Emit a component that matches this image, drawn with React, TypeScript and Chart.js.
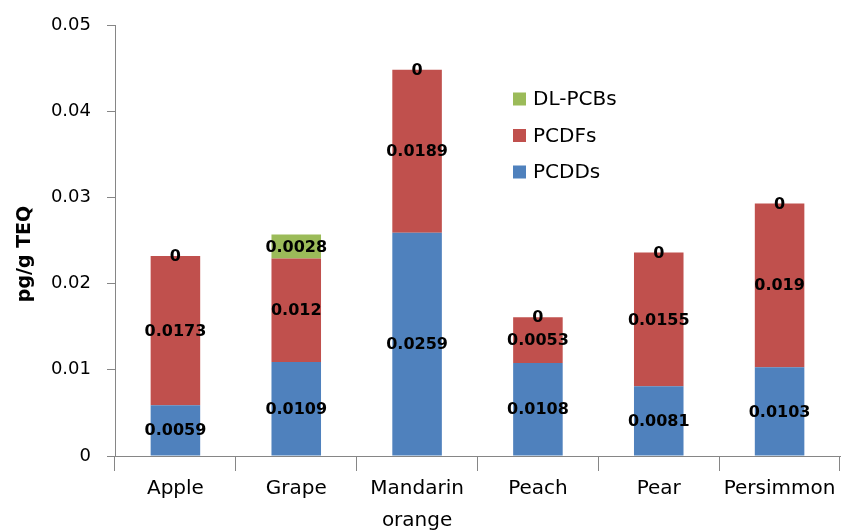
import React, { useEffect, useRef } from "react";
import { Chart, registerables } from "chart.js";

Chart.register(...registerables);

const categories: (string | string[])[] = ["Apple", "Grape", ["Mandarin", "orange"], "Peach", "Pear", "Persimmon"];
const pcdds = [0.0059, 0.0109, 0.0259, 0.0108, 0.0081, 0.0103];
const pcdfs = [0.0173, 0.012, 0.0189, 0.0053, 0.0155, 0.019];
const dlpcbs = [0, 0.0028, 0, 0, 0, 0];
const seriesNames = ["PCDDs", "PCDFs", "DL-PCBs"];
const seriesColors = ["#4F81BD", "#C0504D", "#9BBB59"];
const yAxisTitle = "pg/g TEQ";
const yMax = 0.05;
const yStep = 0.01;

const FONT = "'DejaVu Sans', sans-serif";

const labelPlugin = {
  id: "customLabels",
  afterDatasetsDraw(chart: any) {
    const ctx = chart.ctx;
    ctx.save();
    ctx.font = `bold 16px ${FONT}`;
    ctx.fillStyle = "#000";
    ctx.textAlign = "center";
    ctx.textBaseline = "middle";
    chart.data.datasets.forEach((ds: any, di: number) => {
      const meta = chart.getDatasetMeta(di);
      meta.data.forEach((el: any, i: number) => {
        const v = ds.data[i];
        const cy = (el.y + el.base) / 2;
        ctx.fillText(String(v), el.x, cy + 1);
      });
    });
    ctx.restore();
  },
  afterDraw(chart: any) {
    const ctx = chart.ctx;
    ctx.save();
    // y-axis title
    ctx.font = `bold 19px ${FONT}`;
    ctx.fillStyle = "#000";
    ctx.textAlign = "center";
    ctx.textBaseline = "middle";
    ctx.translate(25, 254);
    ctx.rotate(-Math.PI / 2);
    ctx.fillText(yAxisTitle, 0, 0);
    ctx.restore();

    // legend (reverse order)
    ctx.save();
    ctx.font = `20px ${FONT}`;
    ctx.textAlign = "left";
    ctx.textBaseline = "middle";
    const x0 = 513;
    const y0 = 99;
    const gap = 36.5;
    for (let k = 0; k < seriesNames.length; k++) {
      const idx = seriesNames.length - 1 - k;
      const cy = y0 + k * gap;
      ctx.fillStyle = seriesColors[idx];
      ctx.fillRect(x0, cy - 6.5, 13, 13);
      ctx.fillStyle = "#000";
      ctx.fillText(seriesNames[idx], x0 + 20, cy + 1);
    }
    ctx.restore();
  },
};

export default function App() {
  const ref = useRef<HTMLCanvasElement | null>(null);
  useEffect(() => {
    if (!ref.current) return;
    const chart = new Chart(ref.current, {
      type: "bar",
      data: {
        labels: categories as any,
        datasets: [
          { label: seriesNames[0], data: pcdds, backgroundColor: seriesColors[0] },
          { label: seriesNames[1], data: pcdfs, backgroundColor: seriesColors[1] },
          { label: seriesNames[2], data: dlpcbs, backgroundColor: seriesColors[2] },
        ],
      },
      options: {
        responsive: false,
        animation: false,
        layout: { padding: { top: 15, right: 2, left: 0, bottom: 0 } },
        plugins: {
          legend: { display: false },
          tooltip: { enabled: false },
        },
        datasets: { bar: { categoryPercentage: 1, barPercentage: 0.41 } } as any,
        scales: {
          x: {
            stacked: true,
            grid: { offset: true, drawOnChartArea: false, drawTicks: true, tickLength: 15, color: "#868686" },
            border: { color: "#868686" },
            ticks: {
              color: "#000",
              font: { family: FONT, size: 20, lineHeight: 1.6 },
              padding: 2,
              maxRotation: 0,
              autoSkip: false,
            },
            afterFit(scale: any) {
              scale.height = 76;
            },
          },
          y: {
            stacked: true,
            min: 0,
            max: yMax,
            grid: { drawOnChartArea: false, drawTicks: true, tickLength: 8, color: "#868686" },
            border: { color: "#868686" },
            ticks: {
              stepSize: yStep,
              color: "#000",
              font: { family: FONT, size: 18, lineHeight: 1.0 },
              padding: 16,
              callback: (v: any) => String(+Number(v).toFixed(2)),
            },
            afterFit(scale: any) {
              scale.width = 115;
            },
          },
        },
      },
      plugins: [labelPlugin],
    });
    return () => chart.destroy();
  }, []);
  return (
    <div style={{ position: "absolute", left: 0, top: 0, width: 842, height: 532, background: "#fff" }}>
      <canvas ref={ref} width={842} height={532} />
    </div>
  );
}
